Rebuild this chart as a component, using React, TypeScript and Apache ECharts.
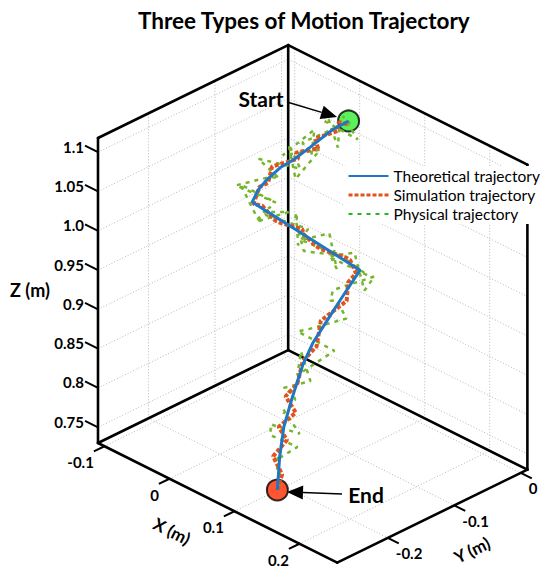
import React, { useEffect, useRef } from "react";
import * as echarts from "echarts";

// ---- axis limits and ticks (metres) ----
const xLim = [-0.11, 0.258];
const yLim = [-0.276, 0.01];
const zLim = [0.73, 1.118];
const xTicks = [-0.1, 0, 0.1, 0.2];
const yTicks = [-0.2, -0.1, 0];
const zTicks = [0.75, 0.8, 0.85, 0.9, 0.95, 1.0, 1.05, 1.1];
const xTickLabels = ["-0.1", "0", "0.1", "0.2"];
const yTickLabels = ["-0.2", "-0.1", "0"];
const zTickLabels = ["0.75", "0.8", "0.85", "0.9", "0.95", "1.0", "1.05", "1.1"];

const seriesNames = ["Theoretical trajectory", "Simulation trajectory", "Physical trajectory"];

// ---- trajectories [X, Y, Z] ----
const theoretical = [
  [0.032, -0.038, 1.1], [0.021, -0.052, 1.09], [0.013, -0.077, 1.075], [0.004, -0.094, 1.062],
  [-0.006, -0.104, 1.052], [-0.012, -0.118, 1.04], [-0.015, -0.128, 1.03], [-0.013, -0.139, 1.02],
  [0.065, -0.053, 0.93], [0.066, -0.084, 0.905], [0.069, -0.106, 0.89], [0.069, -0.128, 0.87],
  [0.071, -0.145, 0.85], [0.078, -0.168, 0.82], [0.092, -0.194, 0.8], [0.105, -0.213, 0.775],
  [0.124, -0.235, 0.75],
];

const simulation = [
  [0.036, -0.044, 1.1], [0.02, -0.041, 1.095], [0.027, -0.05, 1.09], [0.013, -0.07, 1.083],
  [0.021, -0.073, 1.075], [0.002, -0.088, 1.068], [0.006, -0.088, 1.062], [-0.014, -0.108, 1.052],
  [-0.006, -0.122, 1.04], [-0.019, -0.122, 1.03], [-0.009, -0.141, 1.02], [-0.011, -0.126, 1.011],
  [0.011, -0.128, 1.002], [0.008, -0.117, 0.993], [0.024, -0.099, 0.984], [0.018, -0.094, 0.975],
  [0.038, -0.093, 0.966], [0.036, -0.083, 0.957], [0.057, -0.066, 0.948], [0.053, -0.056, 0.939],
  [0.067, -0.061, 0.93], [0.06, -0.066, 0.918], [0.072, -0.08, 0.905], [0.065, -0.112, 0.89],
  [0.077, -0.13, 0.87], [0.065, -0.139, 0.85], [0.078, -0.16, 0.835], [0.07, -0.17, 0.82],
  [0.091, -0.175, 0.81], [0.088, -0.198, 0.8], [0.1, -0.197, 0.788], [0.099, -0.217, 0.775],
  [0.118, -0.222, 0.762], [0.124, -0.235, 0.75],
];

const physical = [
  [0.046, -0.049, 1.107], [0.014, -0.029, 1.095], [0.048, -0.04, 1.084], [0.015, -0.061, 1.104],
  [-0.001, -0.038, 1.094], [0.037, -0.059, 1.077], [0.026, -0.046, 1.094], [0.001, -0.077, 1.076],
  [0.033, -0.095, 1.08], [0.006, -0.064, 1.089], [-0.015, -0.091, 1.059], [0.021, -0.07, 1.072],
  [0.022, -0.108, 1.051], [-0.01, -0.087, 1.073], [0.005, -0.084, 1.047], [-0.028, -0.115, 1.059],
  [0.011, -0.122, 1.053], [-0.025, -0.1, 1.031], [-0.033, -0.144, 1.035], [0.001, -0.117, 1.016],
  [-0.038, -0.132, 1.029], [0.009, -0.152, 1.013], [-0.016, -0.108, 1.0], [0.013, -0.148, 1.022],
  [0.017, -0.113, 1.009], [-0.017, -0.129, 0.989], [0.001, -0.133, 1.007], [0.032, -0.099, 0.988],
  [0.034, -0.116, 0.975], [0.004, -0.089, 0.993], [0.004, -0.091, 0.986], [0.039, -0.112, 0.968],
  [0.054, -0.074, 0.953], [0.023, -0.101, 0.971], [0.026, -0.061, 0.964], [0.065, -0.088, 0.946],
  [0.06, -0.092, 0.961], [0.031, -0.059, 0.943], [0.079, -0.055, 0.93], [0.044, -0.08, 0.95],
  [0.042, -0.039, 0.937], [0.083, -0.064, 0.916], [0.082, -0.048, 0.927], [0.052, -0.081, 0.911],
  [0.046, -0.079, 0.894], [0.079, -0.102, 0.918], [0.087, -0.095, 0.895], [0.058, -0.122, 0.881],
  [0.053, -0.135, 0.881], [0.089, -0.115, 0.863], [0.078, -0.16, 0.846], [0.057, -0.134, 0.857],
  [0.091, -0.153, 0.841], [0.064, -0.167, 0.827], [0.067, -0.155, 0.814], [0.091, -0.176, 0.827],
  [0.093, -0.195, 0.818], [0.07, -0.174, 0.806], [0.106, -0.184, 0.793], [0.085, -0.207, 0.806],
  [0.085, -0.207, 0.792], [0.109, -0.19, 0.78], [0.115, -0.224, 0.782], [0.094, -0.205, 0.769],
  [0.106, -0.218, 0.758], [0.125, -0.231, 0.768], [0.13, -0.239, 0.754], [0.117, -0.229, 0.747],
];

// ---- fixed MATLAB-like view (pixel basis of the 3D axes box) ----
const VIEW = { ox: 98, oy: 443, xx: 650, xy: 325, yx: 665, yy: -325, zy: -786 };
function project(p: number[]): number[] {
  const u = p[0] - xLim[0];
  const v = p[1] - yLim[0];
  const w = p[2] - zLim[0];
  return [VIEW.ox + VIEW.xx * u + VIEW.yx * v, VIEW.oy + VIEW.xy * u + VIEW.yy * v + VIEW.zy * w];
}
function seg(a: number[], b: number[]): number[] {
  return [...project(a), ...project(b)];
}

const FONT = 'Lato, "Open Sans", "DejaVu Sans", sans-serif';

function buildOption() {
  const [x0, x1] = xLim;
  const [y0, y1] = yLim;
  const [z0, z1] = zLim;

  // dotted grid on the three back planes
  const grid: number[][] = [];
  zTicks.forEach((z) => {
    grid.push(seg([x0, y0, z], [x0, y1, z]));
    grid.push(seg([x0, y1, z], [x1, y1, z]));
  });
  yTicks.forEach((y) => {
    grid.push(seg([x0, y, z0], [x0, y, z1]));
    grid.push(seg([x0, y, z0], [x1, y, z0]));
  });
  xTicks.forEach((x) => {
    grid.push(seg([x, y1, z0], [x, y1, z1]));
    grid.push(seg([x, y0, z0], [x, y1, z0]));
  });

  // box edges
  const box = [
    seg([x0, y0, z1], [x0, y1, z1]),
    seg([x0, y1, z1], [x1, y1, z1]),
    seg([x0, y0, z0], [x0, y0, z1]),
    seg([x0, y1, z0], [x0, y1, z1]),
    seg([x1, y1, z0], [x1, y1, z1]),
    seg([x0, y0, z0], [x0, y1, z0]),
    seg([x0, y1, z0], [x1, y1, z0]),
    seg([x0, y0, z0], [x1, y0, z0]),
    seg([x1, y0, z0], [x1, y1, z0]),
  ];

  // tick marks and their labels
  const ticks: number[][] = [];
  const labels: { pos: number[]; text: string; align: string; dx: number; dy: number }[] = [];
  zTicks.forEach((z, i) => {
    const end = [x0 - 0.02, y0, z];
    ticks.push(seg([x0, y0, z], end));
    labels.push({ pos: project(end), text: zTickLabels[i], align: "right", dx: -1, dy: 1 });
  });
  xTicks.forEach((x, i) => {
    const end = [x, y0 - 0.016, z0];
    ticks.push(seg([x, y0, z0], end));
    labels.push({ pos: project(end), text: xTickLabels[i], align: "right", dx: 0, dy: 11 });
  });
  yTicks.forEach((y, i) => {
    const end = [x1 + 0.017, y, z0];
    ticks.push(seg([x1, y, z0], end));
    labels.push({ pos: project(end), text: yTickLabels[i], align: "left", dx: -3, dy: 10 });
  });

  const segRender = (style: any) => (params: any, api: any) => {
    const a = api.coord([api.value(0), api.value(1)]);
    const b = api.coord([api.value(2), api.value(3)]);
    return { type: "line", shape: { x1: a[0], y1: a[1], x2: b[0], y2: b[1] }, style };
  };

  const start = theoretical[0];
  const end = theoretical[theoretical.length - 1];

  // annotation arrows
  const arrow = (from: number[], tip: number[]) => {
    const dx = tip[0] - from[0];
    const dy = tip[1] - from[1];
    const L = Math.hypot(dx, dy);
    const ux = dx / L;
    const uy = dy / L;
    const hl = 16;
    const hw = 7;
    const bx = tip[0] - ux * hl;
    const by = tip[1] - uy * hl;
    return [
      {
        type: "line",
        shape: { x1: from[0], y1: from[1], x2: bx, y2: by },
        style: { stroke: "#000", lineWidth: 1.5 },
        z: 100,
      },
      {
        type: "polygon",
        shape: { points: [tip, [bx - uy * hw, by + ux * hw], [bx + uy * hw, by - ux * hw]] },
        style: { fill: "#000" },
        z: 100,
      },
    ];
  };

  return {
    animation: false,
    backgroundColor: "#fff",
    title: {
      text: "Three Types of Motion Trajectory",
      left: 133,
      top: 4,
      textStyle: { fontFamily: FONT, fontWeight: "bold", fontSize: 22.5, color: "#000" },
    },
    legend: {
      orient: "vertical",
      left: 343,
      top: 166,
      itemWidth: 40,
      itemHeight: 14,
      itemGap: 3,
      padding: [2, 4, 2, 4],
      backgroundColor: "#fff",
      itemStyle: { opacity: 0 },
      textStyle: { fontFamily: FONT, fontSize: 15.5, color: "#000" },
      data: [
        seriesNames[0],
        { name: seriesNames[1], lineStyle: { width: 3 } },
        { name: seriesNames[2], lineStyle: { color: "#22b922" }, itemStyle: { color: "#22b922", opacity: 0 } },
      ],
      z: 50,
    },
    grid: { left: 0, right: 0, top: 0, bottom: 0 },
    xAxis: { type: "value", min: 0, max: 550, show: false },
    yAxis: { type: "value", min: 0, max: 577, inverse: true, show: false },
    graphic: [
      {
        type: "text",
        x: 30,
        y: 290,
        style: { text: "Z (m)", fontFamily: FONT, fontWeight: "bold", fontSize: 18, fill: "#000", align: "center", verticalAlign: "middle" },
      },
      {
        type: "text",
        x: 172,
        y: 531,
        rotation: -Math.atan2(325, 650),
        style: { text: "X (m)", fontFamily: FONT, fontWeight: "bold", fontSize: 17, fill: "#000", align: "center", verticalAlign: "middle" },
      },
      {
        type: "text",
        x: 472,
        y: 550,
        rotation: Math.atan2(325, 665),
        style: { text: "Y (m)", fontFamily: FONT, fontWeight: "bold", fontSize: 17, fill: "#000", align: "center", verticalAlign: "middle" },
      },
      {
        type: "text",
        x: 261,
        y: 98,
        style: { text: "Start", fontFamily: FONT, fontWeight: "bold", fontSize: 21, fill: "#000", align: "center", verticalAlign: "middle" },
        z: 100,
      },
      {
        type: "text",
        x: 366,
        y: 494,
        style: { text: "End", fontFamily: FONT, fontWeight: "bold", fontSize: 21, fill: "#000", align: "center", verticalAlign: "middle" },
        z: 100,
      },
      ...arrow([287, 102], [337, 117]),
      ...arrow([342, 494], [287, 492]),
    ],
    series: [
      {
        type: "custom",
        silent: true,
        z: 1,
        data: grid,
        renderItem: segRender({ stroke: "#b8b8b8", lineWidth: 1, lineDash: [1, 2] }),
      },
      {
        type: "custom",
        silent: true,
        z: 2,
        data: box,
        renderItem: segRender({ stroke: "#000", lineWidth: 2.6, lineCap: "round" }),
      },
      {
        type: "custom",
        silent: true,
        z: 2,
        data: ticks,
        renderItem: segRender({ stroke: "#000", lineWidth: 2 }),
      },
      {
        type: "custom",
        silent: true,
        z: 2,
        data: labels.map((l) => l.pos),
        renderItem: (params: any, api: any) => {
          const l = labels[params.dataIndex];
          const p = api.coord([api.value(0), api.value(1)]);
          return {
            type: "text",
            x: p[0] + l.dx,
            y: p[1] + l.dy,
            style: {
              text: l.text,
              fontFamily: FONT,
              fontWeight: "bold",
              fontSize: 15,
              fill: "#000",
              align: l.align,
              verticalAlign: "middle",
            },
          };
        },
      },
      {
        type: "scatter",
        silent: true,
        z: 3,
        symbol: "circle",
        symbolSize: 21,
        data: [
          { value: project(start), itemStyle: { color: "#33ee33", borderColor: "#000", borderWidth: 2 } },
          { value: project(end), itemStyle: { color: "#ff2a00", borderColor: "#000", borderWidth: 2 } },
        ],
      },
      {
        name: seriesNames[2],
        type: "line",
        z: 4,
        symbol: "none",
        data: physical.map(project),
        lineStyle: { color: "#77b52f", width: 2.5, type: [4, 5] },
        itemStyle: { color: "#77b52f" },
      },
      {
        name: seriesNames[1],
        type: "line",
        z: 5,
        symbol: "none",
        data: simulation.map(project),
        lineStyle: { color: "#e4521b", width: 4, type: [4, 2] },
        itemStyle: { color: "#e4521b" },
      },
      {
        name: seriesNames[0],
        type: "line",
        z: 6,
        symbol: "none",
        data: theoretical.map(project),
        lineStyle: { color: "#1f77c4", width: 3 },
        itemStyle: { color: "#1f77c4" },
      },
    ],
  };
}

export default function App() {
  const ref = useRef<HTMLDivElement>(null);
  useEffect(() => {
    if (!ref.current) return;
    const chart = echarts.init(ref.current, null, { renderer: "svg" });
    chart.setOption(buildOption() as any);
    return () => chart.dispose();
  }, []);
  return (
    <div
      ref={ref}
      style={{ position: "absolute", left: 0, top: 0, width: 550, height: 577, background: "#fff" }}
    />
  );
}
